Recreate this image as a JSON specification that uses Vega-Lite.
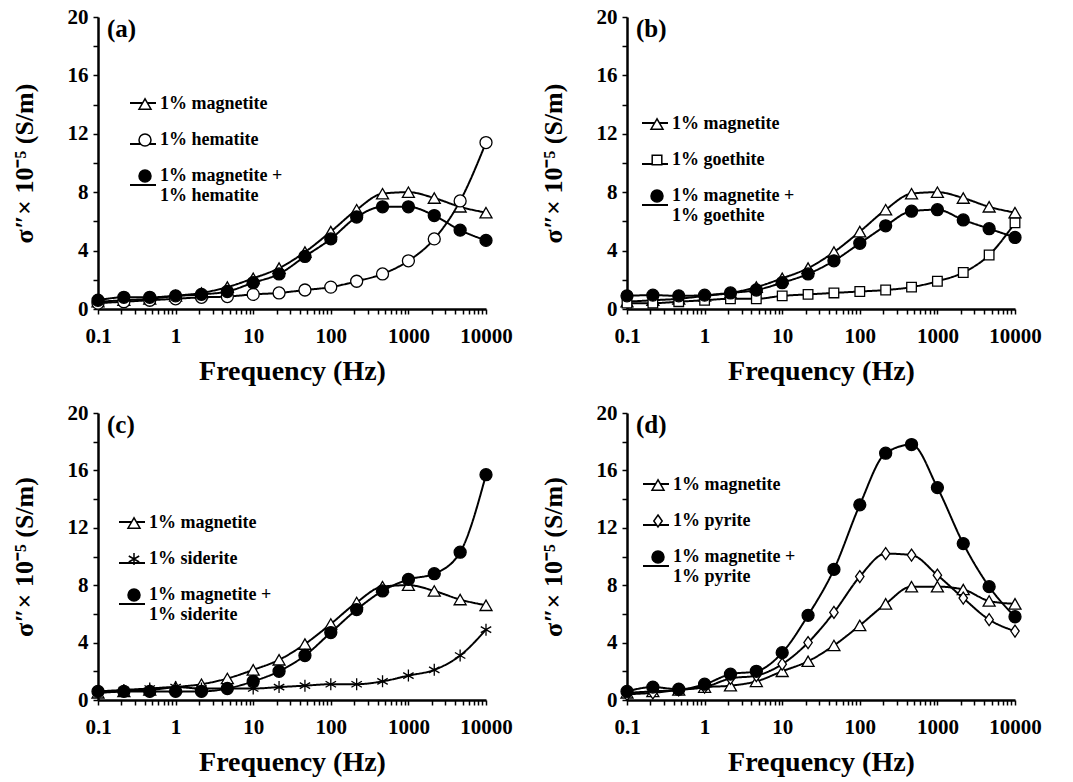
{
  "$schema": "https://vega.github.io/schema/vega-lite/v6.json",
  "background": "white",
  "padding": {"left": 11, "top": 6, "right": 5, "bottom": 5},
  "spacing": 17,
  "config": {
    "font": "Liberation Serif",
    "view": {"stroke": null},
    "axis": {
      "grid": false,
      "domainColor": "black",
      "domainWidth": 2.5,
      "tickColor": "black",
      "tickWidth": 1.5,
      "tickSize": 5,
      "labelColor": "black",
      "labelFont": "Liberation Serif",
      "labelFontWeight": "bold",
      "labelFontSize": 21,
      "labelOverlap": false,
      "labelFlush": false,
      "titleColor": "black",
      "titleFont": "Liberation Serif",
      "titleFontWeight": "bold"
    },
    "axisX": {
      "values": [0.1,0.2,0.3,0.4,0.5,0.6,0.7,0.8,0.9,1,2,3,4,5,6,7,8,9,10,20,30,40,50,60,70,80,90,100,200,300,400,500,600,700,800,900,1000,2000,3000,4000,5000,6000,7000,8000,9000,10000],
      "format": "~g",
      "labelExpr": "indexof([0.1,1,10,100,1000,10000], datum.value) >= 0 ? datum.label : ''",
      "labelPadding": 11,
      "titleFontSize": 28,
      "titlePadding": 11
    },
    "axisY": {
      "values": [0,2,4,6,8,10,12,14,16,18,20],
      "labelExpr": "datum.value % 4 == 0 ? datum.label : ''",
      "labelPadding": 5,
      "titleFontSize": 26,
      "titlePadding": 30
    },
    "legend": {
      "orient": "none",
      "title": null,
      "labelFont": "Liberation Serif",
      "labelFontWeight": "bold",
      "labelFontSize": 18,
      "labelColor": "black",
      "labelLimit": 300,
      "labelOffset": 6,
      "symbolSize": 144,
      "rowPadding": 18,
      "padding": 0
    },
    "title": {"font": "Liberation Serif", "fontWeight": "bold", "fontSize": 25, "color": "black", "anchor": "start", "frame": "group", "baseline": "alphabetic"}
  },
  "datasets": {
    "pts": [
      {"p":"a","s":"1% magnetite","f":0.1,"v":0.5},{"p":"a","s":"1% magnetite","f":0.2154,"v":0.6},{"p":"a","s":"1% magnetite","f":0.4642,"v":0.7},{"p":"a","s":"1% magnetite","f":1,"v":0.9},{"p":"a","s":"1% magnetite","f":2.154,"v":1.1},{"p":"a","s":"1% magnetite","f":4.642,"v":1.5},{"p":"a","s":"1% magnetite","f":10,"v":2.1},{"p":"a","s":"1% magnetite","f":21.54,"v":2.8},{"p":"a","s":"1% magnetite","f":46.42,"v":3.9},{"p":"a","s":"1% magnetite","f":100,"v":5.3},{"p":"a","s":"1% magnetite","f":215.4,"v":6.8},{"p":"a","s":"1% magnetite","f":464.2,"v":7.9},{"p":"a","s":"1% magnetite","f":1000,"v":8.0},{"p":"a","s":"1% magnetite","f":2154,"v":7.6},{"p":"a","s":"1% magnetite","f":4642,"v":7.0},{"p":"a","s":"1% magnetite","f":10000,"v":6.6},
      {"p":"a","s":"1% hematite","f":0.1,"v":0.4},{"p":"a","s":"1% hematite","f":0.2154,"v":0.5},{"p":"a","s":"1% hematite","f":0.4642,"v":0.6},{"p":"a","s":"1% hematite","f":1,"v":0.7},{"p":"a","s":"1% hematite","f":2.154,"v":0.8},{"p":"a","s":"1% hematite","f":4.642,"v":0.85},{"p":"a","s":"1% hematite","f":10,"v":1.0},{"p":"a","s":"1% hematite","f":21.54,"v":1.1},{"p":"a","s":"1% hematite","f":46.42,"v":1.3},{"p":"a","s":"1% hematite","f":100,"v":1.5},{"p":"a","s":"1% hematite","f":215.4,"v":1.9},{"p":"a","s":"1% hematite","f":464.2,"v":2.4},{"p":"a","s":"1% hematite","f":1000,"v":3.3},{"p":"a","s":"1% hematite","f":2154,"v":4.8},{"p":"a","s":"1% hematite","f":4642,"v":7.4},{"p":"a","s":"1% hematite","f":10000,"v":11.4},
      {"p":"a","s":"1% magnetite + 1% hematite","f":0.1,"v":0.6},{"p":"a","s":"1% magnetite + 1% hematite","f":0.2154,"v":0.8},{"p":"a","s":"1% magnetite + 1% hematite","f":0.4642,"v":0.8},{"p":"a","s":"1% magnetite + 1% hematite","f":1,"v":0.9},{"p":"a","s":"1% magnetite + 1% hematite","f":2.154,"v":1.0},{"p":"a","s":"1% magnetite + 1% hematite","f":4.642,"v":1.2},{"p":"a","s":"1% magnetite + 1% hematite","f":10,"v":1.8},{"p":"a","s":"1% magnetite + 1% hematite","f":21.54,"v":2.4},{"p":"a","s":"1% magnetite + 1% hematite","f":46.42,"v":3.6},{"p":"a","s":"1% magnetite + 1% hematite","f":100,"v":4.8},{"p":"a","s":"1% magnetite + 1% hematite","f":215.4,"v":6.3},{"p":"a","s":"1% magnetite + 1% hematite","f":464.2,"v":7.0},{"p":"a","s":"1% magnetite + 1% hematite","f":1000,"v":7.0},{"p":"a","s":"1% magnetite + 1% hematite","f":2154,"v":6.4},{"p":"a","s":"1% magnetite + 1% hematite","f":4642,"v":5.4},{"p":"a","s":"1% magnetite + 1% hematite","f":10000,"v":4.7},
      {"p":"b","s":"1% magnetite","f":0.1,"v":0.5},{"p":"b","s":"1% magnetite","f":0.2154,"v":0.6},{"p":"b","s":"1% magnetite","f":0.4642,"v":0.7},{"p":"b","s":"1% magnetite","f":1,"v":0.9},{"p":"b","s":"1% magnetite","f":2.154,"v":1.1},{"p":"b","s":"1% magnetite","f":4.642,"v":1.5},{"p":"b","s":"1% magnetite","f":10,"v":2.1},{"p":"b","s":"1% magnetite","f":21.54,"v":2.8},{"p":"b","s":"1% magnetite","f":46.42,"v":3.9},{"p":"b","s":"1% magnetite","f":100,"v":5.3},{"p":"b","s":"1% magnetite","f":215.4,"v":6.8},{"p":"b","s":"1% magnetite","f":464.2,"v":7.9},{"p":"b","s":"1% magnetite","f":1000,"v":8.0},{"p":"b","s":"1% magnetite","f":2154,"v":7.6},{"p":"b","s":"1% magnetite","f":4642,"v":7.0},{"p":"b","s":"1% magnetite","f":10000,"v":6.6},
      {"p":"b","s":"1% goethite","f":0.1,"v":0.4},{"p":"b","s":"1% goethite","f":0.2154,"v":0.4},{"p":"b","s":"1% goethite","f":0.4642,"v":0.5},{"p":"b","s":"1% goethite","f":1,"v":0.6},{"p":"b","s":"1% goethite","f":2.154,"v":0.7},{"p":"b","s":"1% goethite","f":4.642,"v":0.7},{"p":"b","s":"1% goethite","f":10,"v":0.9},{"p":"b","s":"1% goethite","f":21.54,"v":1.0},{"p":"b","s":"1% goethite","f":46.42,"v":1.1},{"p":"b","s":"1% goethite","f":100,"v":1.2},{"p":"b","s":"1% goethite","f":215.4,"v":1.3},{"p":"b","s":"1% goethite","f":464.2,"v":1.5},{"p":"b","s":"1% goethite","f":1000,"v":1.9},{"p":"b","s":"1% goethite","f":2154,"v":2.5},{"p":"b","s":"1% goethite","f":4642,"v":3.7},{"p":"b","s":"1% goethite","f":10000,"v":5.9},
      {"p":"b","s":"1% magnetite + 1% goethite","f":0.1,"v":0.9},{"p":"b","s":"1% magnetite + 1% goethite","f":0.2154,"v":0.95},{"p":"b","s":"1% magnetite + 1% goethite","f":0.4642,"v":0.9},{"p":"b","s":"1% magnetite + 1% goethite","f":1,"v":0.95},{"p":"b","s":"1% magnetite + 1% goethite","f":2.154,"v":1.1},{"p":"b","s":"1% magnetite + 1% goethite","f":4.642,"v":1.3},{"p":"b","s":"1% magnetite + 1% goethite","f":10,"v":1.8},{"p":"b","s":"1% magnetite + 1% goethite","f":21.54,"v":2.4},{"p":"b","s":"1% magnetite + 1% goethite","f":46.42,"v":3.3},{"p":"b","s":"1% magnetite + 1% goethite","f":100,"v":4.5},{"p":"b","s":"1% magnetite + 1% goethite","f":215.4,"v":5.7},{"p":"b","s":"1% magnetite + 1% goethite","f":464.2,"v":6.7},{"p":"b","s":"1% magnetite + 1% goethite","f":1000,"v":6.8},{"p":"b","s":"1% magnetite + 1% goethite","f":2154,"v":6.1},{"p":"b","s":"1% magnetite + 1% goethite","f":4642,"v":5.5},{"p":"b","s":"1% magnetite + 1% goethite","f":10000,"v":4.9},
      {"p":"c","s":"1% magnetite","f":0.1,"v":0.5},{"p":"c","s":"1% magnetite","f":0.2154,"v":0.6},{"p":"c","s":"1% magnetite","f":0.4642,"v":0.7},{"p":"c","s":"1% magnetite","f":1,"v":0.9},{"p":"c","s":"1% magnetite","f":2.154,"v":1.1},{"p":"c","s":"1% magnetite","f":4.642,"v":1.5},{"p":"c","s":"1% magnetite","f":10,"v":2.1},{"p":"c","s":"1% magnetite","f":21.54,"v":2.8},{"p":"c","s":"1% magnetite","f":46.42,"v":3.9},{"p":"c","s":"1% magnetite","f":100,"v":5.3},{"p":"c","s":"1% magnetite","f":215.4,"v":6.8},{"p":"c","s":"1% magnetite","f":464.2,"v":7.9},{"p":"c","s":"1% magnetite","f":1000,"v":8.0},{"p":"c","s":"1% magnetite","f":2154,"v":7.6},{"p":"c","s":"1% magnetite","f":4642,"v":7.0},{"p":"c","s":"1% magnetite","f":10000,"v":6.6},
      {"p":"c","s":"1% siderite","f":0.1,"v":0.6},{"p":"c","s":"1% siderite","f":0.2154,"v":0.7},{"p":"c","s":"1% siderite","f":0.4642,"v":0.8},{"p":"c","s":"1% siderite","f":1,"v":0.9},{"p":"c","s":"1% siderite","f":2.154,"v":0.8},{"p":"c","s":"1% siderite","f":4.642,"v":0.8},{"p":"c","s":"1% siderite","f":10,"v":0.8},{"p":"c","s":"1% siderite","f":21.54,"v":0.9},{"p":"c","s":"1% siderite","f":46.42,"v":1.0},{"p":"c","s":"1% siderite","f":100,"v":1.1},{"p":"c","s":"1% siderite","f":215.4,"v":1.1},{"p":"c","s":"1% siderite","f":464.2,"v":1.3},{"p":"c","s":"1% siderite","f":1000,"v":1.7},{"p":"c","s":"1% siderite","f":2154,"v":2.1},{"p":"c","s":"1% siderite","f":4642,"v":3.1},{"p":"c","s":"1% siderite","f":10000,"v":4.9},
      {"p":"c","s":"1% magnetite + 1% siderite","f":0.1,"v":0.6},{"p":"c","s":"1% magnetite + 1% siderite","f":0.2154,"v":0.6},{"p":"c","s":"1% magnetite + 1% siderite","f":0.4642,"v":0.6},{"p":"c","s":"1% magnetite + 1% siderite","f":1,"v":0.6},{"p":"c","s":"1% magnetite + 1% siderite","f":2.154,"v":0.6},{"p":"c","s":"1% magnetite + 1% siderite","f":4.642,"v":0.8},{"p":"c","s":"1% magnetite + 1% siderite","f":10,"v":1.3},{"p":"c","s":"1% magnetite + 1% siderite","f":21.54,"v":2.0},{"p":"c","s":"1% magnetite + 1% siderite","f":46.42,"v":3.1},{"p":"c","s":"1% magnetite + 1% siderite","f":100,"v":4.7},{"p":"c","s":"1% magnetite + 1% siderite","f":215.4,"v":6.3},{"p":"c","s":"1% magnetite + 1% siderite","f":464.2,"v":7.6},{"p":"c","s":"1% magnetite + 1% siderite","f":1000,"v":8.4},{"p":"c","s":"1% magnetite + 1% siderite","f":2154,"v":8.8},{"p":"c","s":"1% magnetite + 1% siderite","f":4642,"v":10.3},{"p":"c","s":"1% magnetite + 1% siderite","f":10000,"v":15.7},
      {"p":"d","s":"1% magnetite","f":0.1,"v":0.5},{"p":"d","s":"1% magnetite","f":0.2154,"v":0.6},{"p":"d","s":"1% magnetite","f":0.4642,"v":0.7},{"p":"d","s":"1% magnetite","f":1,"v":0.9},{"p":"d","s":"1% magnetite","f":2.154,"v":1.0},{"p":"d","s":"1% magnetite","f":4.642,"v":1.3},{"p":"d","s":"1% magnetite","f":10,"v":2.0},{"p":"d","s":"1% magnetite","f":21.54,"v":2.7},{"p":"d","s":"1% magnetite","f":46.42,"v":3.8},{"p":"d","s":"1% magnetite","f":100,"v":5.2},{"p":"d","s":"1% magnetite","f":215.4,"v":6.7},{"p":"d","s":"1% magnetite","f":464.2,"v":7.9},{"p":"d","s":"1% magnetite","f":1000,"v":7.9},{"p":"d","s":"1% magnetite","f":2154,"v":7.7},{"p":"d","s":"1% magnetite","f":4642,"v":6.9},{"p":"d","s":"1% magnetite","f":10000,"v":6.7},
      {"p":"d","s":"1% pyrite","f":0.1,"v":0.4},{"p":"d","s":"1% pyrite","f":0.2154,"v":0.5},{"p":"d","s":"1% pyrite","f":0.4642,"v":0.7},{"p":"d","s":"1% pyrite","f":1,"v":0.9},{"p":"d","s":"1% pyrite","f":2.154,"v":1.5},{"p":"d","s":"1% pyrite","f":4.642,"v":1.7},{"p":"d","s":"1% pyrite","f":10,"v":2.5},{"p":"d","s":"1% pyrite","f":21.54,"v":4.0},{"p":"d","s":"1% pyrite","f":46.42,"v":6.1},{"p":"d","s":"1% pyrite","f":100,"v":8.6},{"p":"d","s":"1% pyrite","f":215.4,"v":10.2},{"p":"d","s":"1% pyrite","f":464.2,"v":10.1},{"p":"d","s":"1% pyrite","f":1000,"v":8.7},{"p":"d","s":"1% pyrite","f":2154,"v":7.1},{"p":"d","s":"1% pyrite","f":4642,"v":5.6},{"p":"d","s":"1% pyrite","f":10000,"v":4.8},
      {"p":"d","s":"1% magnetite + 1% pyrite","f":0.1,"v":0.6},{"p":"d","s":"1% magnetite + 1% pyrite","f":0.2154,"v":0.9},{"p":"d","s":"1% magnetite + 1% pyrite","f":0.4642,"v":0.75},{"p":"d","s":"1% magnetite + 1% pyrite","f":1,"v":1.1},{"p":"d","s":"1% magnetite + 1% pyrite","f":2.154,"v":1.8},{"p":"d","s":"1% magnetite + 1% pyrite","f":4.642,"v":2.0},{"p":"d","s":"1% magnetite + 1% pyrite","f":10,"v":3.3},{"p":"d","s":"1% magnetite + 1% pyrite","f":21.54,"v":5.9},{"p":"d","s":"1% magnetite + 1% pyrite","f":46.42,"v":9.1},{"p":"d","s":"1% magnetite + 1% pyrite","f":100,"v":13.6},{"p":"d","s":"1% magnetite + 1% pyrite","f":215.4,"v":17.2},{"p":"d","s":"1% magnetite + 1% pyrite","f":464.2,"v":17.8},{"p":"d","s":"1% magnetite + 1% pyrite","f":1000,"v":14.8},{"p":"d","s":"1% magnetite + 1% pyrite","f":2154,"v":10.9},{"p":"d","s":"1% magnetite + 1% pyrite","f":4642,"v":7.9},{"p":"d","s":"1% magnetite + 1% pyrite","f":10000,"v":5.8}
    ]
  },
  "data": {"name": "pts"},
  "resolve": {"scale": {"shape": "independent", "fill": "independent", "strokeDash": "independent"}},
  "vconcat": [
    {
      "spacing": 27,
      "resolve": {"scale": {"shape": "independent", "fill": "independent", "strokeDash": "independent"}},
      "hconcat": [
        {
          "width": 388, "height": 292,
          "title": {"text": "(a)", "offset": -36, "dx": 9},
          "transform": [{"filter": "datum.p == 'a'"}],
          "encoding": {
            "x": {"field": "f", "type": "quantitative", "scale": {"type": "log", "domain": [0.1, 10000], "nice": false}, "axis": {"title": "Frequency (Hz)"}},
            "y": {"field": "v", "type": "quantitative", "scale": {"domain": [0, 20], "nice": false}, "axis": {"title": "σ″× 10⁻⁵ (S/m)"}}
          },
          "layer": [
            {"mark": {"type": "line", "interpolate": "monotone", "color": "black", "strokeWidth": 2},
             "encoding": {"strokeDash": {"field": "s", "type": "nominal", "scale": {"domain": ["1% magnetite", "1% hematite", "1% magnetite + 1% hematite", "~"], "range": [[1, 0], [1, 0], [1, 0], [1, 0]]},
               "legend": {"values": ["1% magnetite", "1% hematite", "1% magnetite + 1% hematite"], "legendX": 31, "legendY": 72, "symbolType": "stroke", "symbolSize": 676, "symbolStrokeWidth": 2, "symbolStrokeColor": "black", "labelOpacity": 0, "labelOffset": -30, "labelExpr": "'.'"}}}},
            {"mark": {"type": "point", "filled": true, "stroke": "black", "strokeWidth": 1.3, "size": 144, "opacity": 1},
             "encoding": {
               "fill": {"field": "s", "type": "nominal", "scale": {"domain": ["1% magnetite", "1% hematite", "1% magnetite + 1% hematite"], "range": ["white", "white", "black"]}, "legend": null},
               "shape": {"field": "s", "type": "nominal", "scale": {"domain": ["1% magnetite", "1% hematite", "1% magnetite + 1% hematite"], "range": ["triangle-up", "circle", "circle"]},
                 "legend": {"legendX": 38, "legendY": 78,
                   "labelExpr": "indexof(datum.label,' + ')>0 ? [slice(datum.label,0,indexof(datum.label,' + ')+2), slice(datum.label,indexof(datum.label,' + ')+3)] : datum.label"}}
             }}
          ]
        },
        {
          "width": 388, "height": 292,
          "title": {"text": "(b)", "offset": -36, "dx": 9},
          "transform": [{"filter": "datum.p == 'b'"}],
          "encoding": {
            "x": {"field": "f", "type": "quantitative", "scale": {"type": "log", "domain": [0.1, 10000], "nice": false}, "axis": {"title": "Frequency (Hz)"}},
            "y": {"field": "v", "type": "quantitative", "scale": {"domain": [0, 20], "nice": false}, "axis": {"title": "σ″× 10⁻⁵ (S/m)"}}
          },
          "layer": [
            {"mark": {"type": "line", "interpolate": "monotone", "color": "black", "strokeWidth": 2},
             "encoding": {"strokeDash": {"field": "s", "type": "nominal", "scale": {"domain": ["1% magnetite", "1% goethite", "1% magnetite + 1% goethite", "~"], "range": [[1, 0], [1, 0], [1, 0], [1, 0]]},
               "legend": {"values": ["1% magnetite", "1% goethite", "1% magnetite + 1% goethite"], "legendX": 14, "legendY": 92, "symbolType": "stroke", "symbolSize": 676, "symbolStrokeWidth": 2, "symbolStrokeColor": "black", "labelOpacity": 0, "labelOffset": -30, "labelExpr": "'.'"}}}},
            {"mark": {"type": "point", "filled": true, "stroke": "black", "strokeWidth": 1.3, "size": 144, "opacity": 1},
             "encoding": {
               "fill": {"field": "s", "type": "nominal", "scale": {"domain": ["1% magnetite", "1% goethite", "1% magnetite + 1% goethite"], "range": ["white", "white", "black"]}, "legend": null},
               "shape": {"field": "s", "type": "nominal", "scale": {"domain": ["1% magnetite", "1% goethite", "1% magnetite + 1% goethite"], "range": ["triangle-up", "M-0.8,-0.8H0.8V0.8H-0.8Z", "circle"]},
                 "legend": {"legendX": 21, "legendY": 98,
                   "labelExpr": "indexof(datum.label,' + ')>0 ? [slice(datum.label,0,indexof(datum.label,' + ')+2), slice(datum.label,indexof(datum.label,' + ')+3)] : datum.label"}}
             }}
          ]
        }
      ]
    },
    {
      "spacing": 27,
      "resolve": {"scale": {"shape": "independent", "fill": "independent", "strokeDash": "independent"}},
      "hconcat": [
        {
          "width": 388, "height": 287,
          "title": {"text": "(c)", "offset": -36, "dx": 9},
          "transform": [{"filter": "datum.p == 'c'"}],
          "encoding": {
            "x": {"field": "f", "type": "quantitative", "scale": {"type": "log", "domain": [0.1, 10000], "nice": false}, "axis": {"title": "Frequency (Hz)"}},
            "y": {"field": "v", "type": "quantitative", "scale": {"domain": [0, 20], "nice": false}, "axis": {"title": "σ″× 10⁻⁵ (S/m)"}}
          },
          "layer": [
            {"mark": {"type": "line", "interpolate": "monotone", "color": "black", "strokeWidth": 2},
             "encoding": {"strokeDash": {"field": "s", "type": "nominal", "scale": {"domain": ["1% magnetite", "1% siderite", "1% magnetite + 1% siderite", "~"], "range": [[1, 0], [1, 0], [1, 0], [1, 0]]},
               "legend": {"values": ["1% magnetite", "1% siderite", "1% magnetite + 1% siderite"], "legendX": 20, "legendY": 95, "symbolType": "stroke", "symbolSize": 676, "symbolStrokeWidth": 2, "symbolStrokeColor": "black", "labelOpacity": 0, "labelOffset": -30, "labelExpr": "'.'"}}}},
            {"mark": {"type": "point", "filled": true, "stroke": "black", "strokeWidth": 1.3, "size": 144, "opacity": 1},
             "encoding": {
               "fill": {"field": "s", "type": "nominal", "scale": {"domain": ["1% magnetite", "1% siderite", "1% magnetite + 1% siderite"], "range": ["white", "white", "black"]}, "legend": null},
               "shape": {"field": "s", "type": "nominal", "scale": {"domain": ["1% magnetite", "1% siderite", "1% magnetite + 1% siderite"], "range": ["triangle-up", "M0,-1L0,1M-0.87,-0.5L0.87,0.5M-0.87,0.5L0.87,-0.5", "circle"]},
                 "legend": {"legendX": 27, "legendY": 101,
                   "labelExpr": "indexof(datum.label,' + ')>0 ? [slice(datum.label,0,indexof(datum.label,' + ')+2), slice(datum.label,indexof(datum.label,' + ')+3)] : datum.label"}}
             }}
          ]
        },
        {
          "width": 388, "height": 287,
          "title": {"text": "(d)", "offset": -36, "dx": 9},
          "transform": [{"filter": "datum.p == 'd'"}],
          "encoding": {
            "x": {"field": "f", "type": "quantitative", "scale": {"type": "log", "domain": [0.1, 10000], "nice": false}, "axis": {"title": "Frequency (Hz)"}},
            "y": {"field": "v", "type": "quantitative", "scale": {"domain": [0, 20], "nice": false}, "axis": {"title": "σ″× 10⁻⁵ (S/m)"}}
          },
          "layer": [
            {"mark": {"type": "line", "interpolate": "monotone", "color": "black", "strokeWidth": 2},
             "encoding": {"strokeDash": {"field": "s", "type": "nominal", "scale": {"domain": ["1% magnetite", "1% pyrite", "1% magnetite + 1% pyrite", "~"], "range": [[1, 0], [1, 0], [1, 0], [1, 0]]},
               "legend": {"values": ["1% magnetite", "1% pyrite", "1% magnetite + 1% pyrite"], "legendX": 15, "legendY": 57, "symbolType": "stroke", "symbolSize": 676, "symbolStrokeWidth": 2, "symbolStrokeColor": "black", "labelOpacity": 0, "labelOffset": -30, "labelExpr": "'.'"}}}},
            {"mark": {"type": "point", "filled": true, "stroke": "black", "strokeWidth": 1.3, "size": 144, "opacity": 1},
             "encoding": {
               "fill": {"field": "s", "type": "nominal", "scale": {"domain": ["1% magnetite", "1% pyrite", "1% magnetite + 1% pyrite"], "range": ["white", "white", "black"]}, "legend": null},
               "shape": {"field": "s", "type": "nominal", "scale": {"domain": ["1% magnetite", "1% pyrite", "1% magnetite + 1% pyrite"], "range": ["triangle-up", "M0,-1L0.7,0L0,1L-0.7,0Z", "circle"]},
                 "legend": {"legendX": 22, "legendY": 63,
                   "labelExpr": "indexof(datum.label,' + ')>0 ? [slice(datum.label,0,indexof(datum.label,' + ')+2), slice(datum.label,indexof(datum.label,' + ')+3)] : datum.label"}}
             }}
          ]
        }
      ]
    }
  ]
}
